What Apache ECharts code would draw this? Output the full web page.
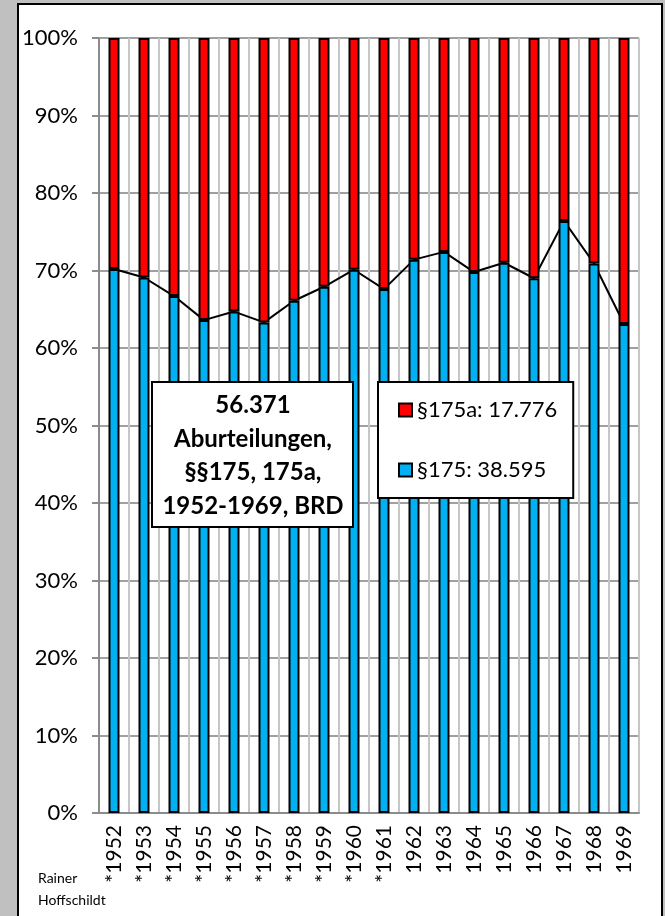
<!DOCTYPE html>
<html>
<head>
<meta charset="utf-8">
<script src="https://cdn.jsdelivr.net/npm/echarts@6/dist/echarts.min.js"></script>
<style>
    body { margin: 0; background: #c0c0c0; }
    .panel {
        position: absolute; left: 17px; top: 3px; width: 646px; height: 930px;
        background: #fff; border: 2px solid #000; box-sizing: border-box;
    }
    #chart { position: absolute; left: 0; top: 0; width: 665px; height: 916px; }
</style>
</head>
<body>
<div class="panel"></div>
<div id="chart"></div>
<script>
    // Jahre, * = ohne Saarland / Berlin
    var years = ['*1952', '*1953', '*1954', '*1955', '*1956', '*1957', '*1958', '*1959', '*1960', '*1961',
        '1962', '1963', '1964', '1965', '1966', '1967', '1968', '1969'];
    // Anteil §175 in Prozent
    var share175 = [70.2, 69.1, 66.7, 63.6, 64.7, 63.3, 66.1, 67.9, 70.1, 67.6,
        71.4, 72.4, 69.8, 71.0, 69.0, 76.4, 70.9, 63.1];
    // Anteil §175a in Prozent
    var share175a = [29.8, 30.9, 33.3, 36.4, 35.3, 36.7, 33.9, 32.1, 29.9, 32.4,
        28.6, 27.6, 30.2, 29.0, 31.0, 23.6, 29.1, 36.9];
    var name175 = '§175: 38.595';
    var name175a = '§175a: 17.776';
    var titleLines = ['56.371', 'Aburteilungen,', '§§175, 175a,', '1952-1969, BRD'];

    var font = 'Lato';
    var myChart = echarts.init(document.getElementById('chart'));
    var option;
    option = {
        animation: false,
        textStyle: {fontFamily: font},
        grid: {left: 99, right: 26, top: 38, bottom: 103},
        legend: {
            data: [name175a, name175],
            orient: 'vertical',
            left: 378,
            top: 382,
            padding: [17, 16, 17, 20],
            itemGap: 38,
            itemWidth: 13,
            itemHeight: 13,
            icon: 'rect',
            backgroundColor: '#fff',
            borderColor: '#000',
            borderWidth: 2,
            borderRadius: 0,
            textStyle: {fontFamily: font, fontSize: 22, color: '#000'}
        },
        xAxis: {
            type: 'category',
            data: years,
            axisLine: {lineStyle: {color: '#8c8c8c', width: 2}},
            axisTick: {interval: 0, length: 7, lineStyle: {color: '#8c8c8c', width: 2}},
            splitLine: {show: true, interval: 0, lineStyle: {color: '#c6c6c6', width: 2}},
            axisLabel: {
                interval: 0,
                rotate: 90,
                margin: 12,
                fontSize: 21,
                color: '#000',
                fontFamily: font
            }
        },
        yAxis: {
            type: 'value',
            min: 0,
            max: 100,
            interval: 10,
            axisLine: {show: true, lineStyle: {color: '#8c8c8c', width: 2}},
            axisTick: {show: true, length: 7, lineStyle: {color: '#8c8c8c', width: 2}},
            splitLine: {lineStyle: {color: '#a0a0a0', width: 2}},
            axisLabel: {
                formatter: '{value}%',
                margin: 21,
                fontSize: 22,
                color: '#000',
                fontFamily: font
            }
        },
        series: [
            {
                name: name175,
                type: 'bar',
                stack: 'total',
                barWidth: 11,
                itemStyle: {color: '#00b0f0', borderColor: '#000', borderWidth: 2},
                data: share175
            },
            {
                name: name175a,
                type: 'bar',
                stack: 'total',
                barWidth: 11,
                itemStyle: {color: '#ff0000', borderColor: '#000', borderWidth: 2},
                data: share175a
            },
            {
                name: 'Linie',
                type: 'line',
                z: 1,
                symbol: 'none',
                lineStyle: {color: '#000', width: 2},
                data: share175
            }
        ],
        graphic: [
            {
                type: 'rect',
                z: 100,
                shape: {x: 152, y: 382, width: 201, height: 145},
                style: {fill: '#fff', stroke: '#000', lineWidth: 2}
            },
            {
                type: 'text',
                z: 101,
                x: 253,
                y: 389,
                style: {
                    text: titleLines.join('\n'),
                    font: 'bold 24px ' + font,
                    fill: '#000',
                    align: 'center',
                    verticalAlign: 'top',
                    lineHeight: 33.5
                }
            },
            {
                type: 'text',
                z: 101,
                x: 38,
                y: 867,
                style: {
                    text: 'Rainer\nHoffschildt',
                    font: '14px ' + font,
                    fill: '#000',
                    lineHeight: 22
                }
            }
        ]
    };

    option && myChart.setOption(option);
</script>
</body>
</html>
